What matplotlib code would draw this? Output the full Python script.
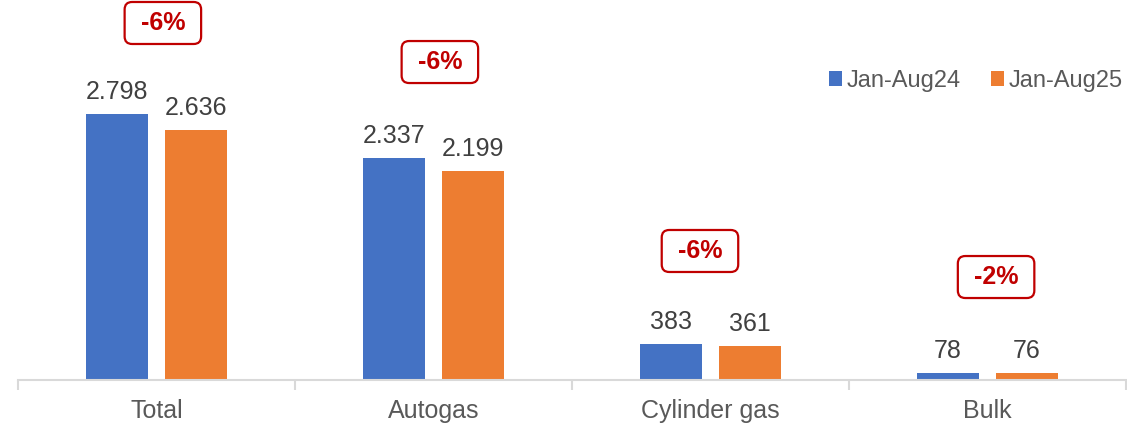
import numpy as np
import matplotlib
matplotlib.use("Agg")
import matplotlib.pyplot as plt

plt.rcParams['font.family'] = ['Liberation Sans', 'DejaVu Sans']

categories = ["Total", "Autogas", "Cylinder gas", "Bulk"]
jan_aug24 = [2798, 2337, 383, 78]
jan_aug25 = [2636, 2199, 361, 76]
labels24 = ["2.798", "2.337", "383", "78"]
labels25 = ["2.636", "2.199", "361", "76"]
changes = ["-6%", "-6%", "-6%", "-2%"]
# where the red boxes sit (x offset from group centre, y in data units)
box_dx = [0.023, 0.023, -0.038, 0.031]
box_y = [3758, 3347, 1358, 1084]

blue = "#4472C4"
orange = "#ED7D31"
red = "#C00000"

fig = plt.figure(figsize=(11.27, 4.26), dpi=100)
ax = fig.add_axes([18 / 1127, 46 / 426, 1108 / 1127, 380 / 426])

x = np.arange(len(categories))
w = 0.224
gap = 0.061
b1 = ax.bar(x - (w + gap) / 2, jan_aug24, w, color=blue, label="Jan-Aug24")
b2 = ax.bar(x + (w + gap) / 2, jan_aug25, w, color=orange, label="Jan-Aug25")

ax.bar_label(b1, labels=labels24, padding=7, fontsize=18, color="#404040")
ax.bar_label(b2, labels=labels25, padding=7, fontsize=18, color="#404040")

for i, txt in enumerate(changes):
    ax.text(x[i] + box_dx[i], box_y[i], " " + txt + " ", ha="center", va="center",
            fontsize=18, fontweight="bold", color=red,
            bbox=dict(boxstyle="round,pad=0.36,rounding_size=0.3", fc="white",
                      ec=red, lw=1.6))

ax.set_xlim(-0.5, len(categories) - 0.5)
ax.set_ylim(0, 4000)
ax.set_yticks([])
for s in ["left", "right", "top"]:
    ax.spines[s].set_visible(False)
ax.spines["bottom"].set_color("#D9D9D9")
ax.spines["bottom"].set_linewidth(1.5)

ax.set_xticks(x)
ax.set_xticklabels(categories, fontsize=18, color="#595959")
ax.tick_params(axis="x", which="major", length=0, pad=14)
ax.set_xticks(np.arange(-0.5, len(categories)), minor=True)
ax.tick_params(axis="x", which="minor", length=7, width=1.5, color="#D9D9D9")

ax.legend(loc="center right", bbox_to_anchor=(1.006, 0.787), ncol=2, frameon=False,
          fontsize=17, labelcolor="#595959", handlelength=0.55, handleheight=0.55,
          handletextpad=0.2, columnspacing=1.3, borderaxespad=0.0)

fig.savefig("out.png", dpi=100)
